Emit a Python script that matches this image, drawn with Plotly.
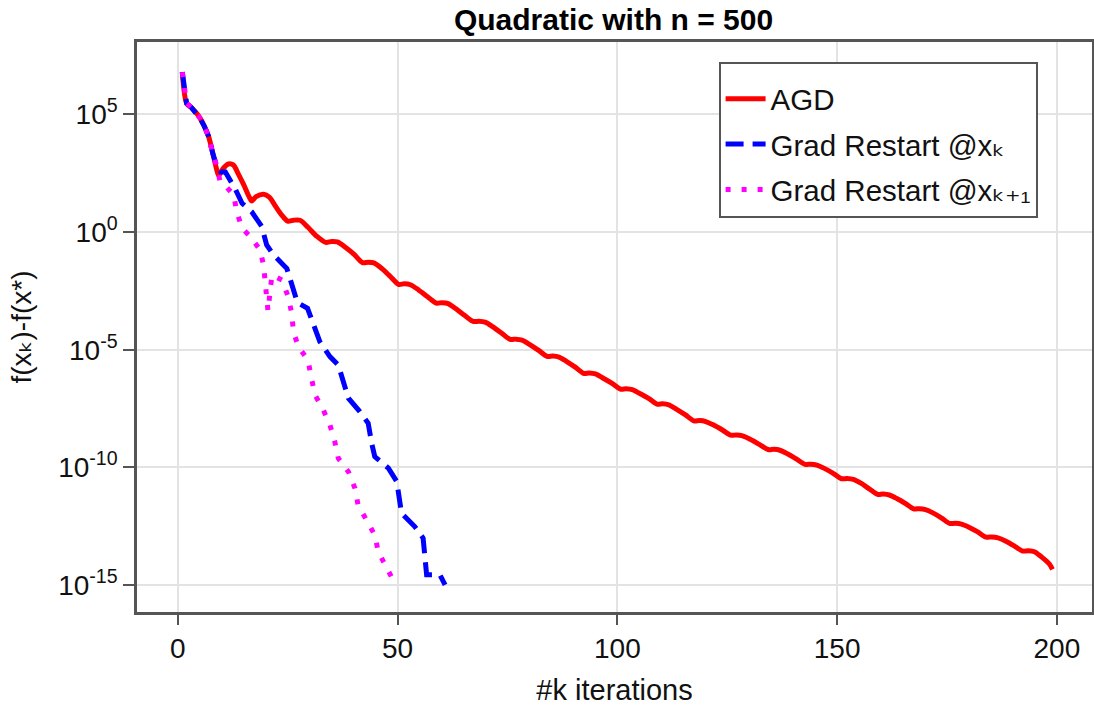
import plotly.graph_objects as go

# ---- data (log10 of f(x_k)-f(x*)) ----
agd_k = [1, 2, 3, 4, 5, 6, 7, 8, 8.7, 9.3, 10.3, 11.5, 12.6, 13.8, 15.0, 16.2, 16.8, 17.8, 19.5, 20.8,
         22.2, 23.5, 25.0, 26.3, 27.8, 29.6, 31.6, 33.6, 35.0, 36.3, 38.1, 40.1, 42.0, 43.3, 44.6, 46.4,
         48.4, 50.2, 51.5, 52.9, 54.7, 56.8, 58.8, 60.1, 61.5, 63.2, 65.3, 67.2, 68.5, 69.9, 71.6, 73.7,
         75.6, 76.9, 78.3, 80.0, 82.1, 84.0, 85.3, 86.7, 88.4, 90.5, 92.3, 93.6, 95.0, 96.7, 98.8, 100.7,
         102.0, 103.4, 105.1, 107.2, 109.0, 110.3, 111.7, 113.4, 115.5, 117.4, 118.7, 120.1, 121.8, 123.9,
         125.8, 127.1, 128.5, 130.2, 132.3, 134.3, 135.6, 137.0, 138.7, 140.8, 142.7, 144.0, 145.4, 147.1,
         149.2, 151.0, 152.3, 153.7, 155.4, 157.4, 159.2, 160.5, 161.9, 163.6, 165.6, 167.4, 168.7, 170.1,
         171.8, 173.8, 175.6, 176.9, 178.3, 180.0, 182.0, 183.9, 185.2, 186.6, 188.3, 190.3, 192.2, 193.5,
         194.9, 196.5, 198.3, 199.0]
agd_log = [6.79, 5.46, 5.30, 5.10, 4.85, 4.50, 4.05, 3.30, 2.75, 2.40, 2.70, 2.89, 2.85, 2.45, 2.00, 1.50, 1.32, 1.50, 1.60, 1.48,
           1.10, 0.75, 0.46, 0.50, 0.50, 0.20, -0.18, -0.44, -0.40, -0.42, -0.65, -0.95, -1.30, -1.28, -1.31, -1.55,
           -1.90, -2.22, -2.20, -2.24, -2.45, -2.75, -3.02, -3.00, -3.04, -3.25, -3.55, -3.80, -3.79, -3.83, -4.02, -4.30,
           -4.56, -4.55, -4.59, -4.77, -5.03, -5.28, -5.27, -5.31, -5.49, -5.75, -6.00, -5.99, -6.03, -6.20, -6.43, -6.67,
           -6.66, -6.70, -6.86, -7.08, -7.31, -7.30, -7.34, -7.52, -7.77, -8.02, -8.01, -8.05, -8.19, -8.41,
           -8.63, -8.62, -8.66, -8.80, -9.02, -9.24, -9.23, -9.27, -9.42, -9.65, -9.87, -9.86, -9.90, -10.04,
           -10.26, -10.48, -10.47, -10.51, -10.67, -10.92, -11.14, -11.13, -11.17, -11.32, -11.54, -11.76, -11.75, -11.79,
           -11.93, -12.15, -12.38, -12.37, -12.41, -12.54, -12.74, -12.96, -12.95, -12.99, -13.12, -13.33, -13.55, -13.54,
           -13.58, -13.80, -14.10, -14.33]

gr_k = [1, 2, 3, 4, 5, 6, 7, 8, 8.9, 9.8, 10.8, 13.0, 14.6, 16.8, 19.1, 20.2, 21.8, 24.8, 25.9, 27.2,
        29.5, 31.2, 32.3, 34.6, 36.5, 38.0, 38.8, 41.4, 43.3, 44.1, 44.8, 47.9, 49.8, 50.9, 53.9, 55.8,
        56.6, 59.6, 60.8]
gr_log = [6.79, 5.46, 5.30, 5.10, 4.85, 4.50, 4.05, 3.30, 2.77, 2.55, 2.55, 1.85, 1.22, 0.86, 0.23, -0.55, -0.98, -1.55, -2.18, -3.00,
          -3.24, -4.02, -4.66, -5.29, -5.65, -6.57, -7.06, -7.63, -8.12, -8.97, -9.54, -10.03, -10.60, -11.95, -12.51, -13.00,
          -14.56, -14.55, -14.99]

grp_k = [1, 2, 3, 4, 5, 6, 7, 8, 8.9, 9.6, 10.4, 12.7, 13.4, 14.6, 16.5, 18.7, 19.5, 20.5, 21.4, 23.7,
         25.1, 25.9, 26.3, 27.4, 29.6, 30.4, 31.2, 33.1, 34.6, 35.7, 36.5, 38.8, 40.3, 41.0, 42.9, 44.8,
         45.6, 47.3, 48.8, 49.3]
grp_log = [6.79, 5.46, 5.30, 5.10, 4.85, 4.50, 4.05, 3.30, 2.77, 2.14, 2.05, 1.57, 0.86, 0.16, -0.20, -0.76, -1.40, -3.35, -1.83, -2.04,
           -2.75, -3.45, -4.23, -4.87, -5.44, -6.21, -6.92, -7.56, -8.20, -8.90, -9.61, -10.18, -10.89, -11.59, -12.20, -12.87,
           -13.58, -14.18, -14.75, -14.90]

x_ticks = [0, 50, 100, 150, 200]
y_tick_exp = [5, 0, -5, -10, -15]

FONT = "Liberation Sans, Arial, Helvetica, DejaVu Sans, sans-serif"

fig = go.Figure()
fig.add_trace(go.Scatter(x=agd_k, y=[10 ** v for v in agd_log], mode="lines", name="AGD",
                         legendgroup="a",
                         line=dict(color="#ff0000", width=5, shape="spline", smoothing=0.8)))
fig.add_trace(go.Scatter(x=gr_k, y=[10 ** v for v in gr_log], mode="lines",
                         name="Grad Restart @x\u2096", legendgroup="b",
                         line=dict(color="#0000ff", width=5, dash="18px,9px")))
fig.add_trace(go.Scatter(x=grp_k, y=[10 ** v for v in grp_log], mode="lines",
                         name="Grad Restart @x\u2096\u208a\u2081", legendgroup="c",
                         line=dict(color="#ff00ff", width=5, dash="5px,11px")))

fig.update_layout(
    width=1094, height=706,
    margin=dict(l=137, r=2, t=42, b=94, autoexpand=False),
    paper_bgcolor="white", plot_bgcolor="white",
    font=dict(family=FONT, size=28, color="#111"),
    title=dict(text="<b>Quadratic with n = 500</b>", x=0.5608, xanchor="center", xref="container",
               y=0.972, yanchor="middle", yref="container",
               font=dict(family=FONT, size=30, color="#000")),
    legend=dict(x=0.609, y=0.965, xanchor="left", yanchor="top",
                bgcolor="white", bordercolor="#555", borderwidth=2,
                tracegroupgap=4, itemwidth=40, entrywidth=324, entrywidthmode="pixels",
                title=dict(text="\u00a0", font=dict(size=7)),
                font=dict(family=FONT, size=29.5, color="#111")),
    showlegend=True,
)
fig.update_xaxes(range=[-9.3, 208], tickvals=x_ticks, ticktext=[str(t) for t in x_ticks],
                 showgrid=True, gridcolor="#e3e3e3", gridwidth=1.5, zeroline=False,
                 showline=True, mirror=True, linecolor="#555", linewidth=2.5,
                 ticks="outside", ticklen=10, tickwidth=1.5, tickcolor="#555",
                 automargin=False,
                 tickfont=dict(size=28), title=dict(text="#k iterations", font=dict(size=29), standoff=18))
fig.update_yaxes(type="log", range=[-16.14, 8.07],
                 tickvals=[10 ** e for e in y_tick_exp],
                 ticktext=["10<sup>%d</sup>" % e for e in y_tick_exp],
                 showgrid=True, gridcolor="#e3e3e3", gridwidth=1.5, zeroline=False,
                 showline=True, mirror=True, linecolor="#555", linewidth=2.5,
                 ticks="outside", ticklen=11, tickwidth=1.5, tickcolor="#555",
                 automargin=False,
                 tickfont=dict(size=28), title=dict(text="f(x\u2096)-f(x*)", font=dict(size=28), standoff=19))

fig.write_html("out.html", config={"displayModeBar": False},
               post_script="document.body.style.margin='0px';")
